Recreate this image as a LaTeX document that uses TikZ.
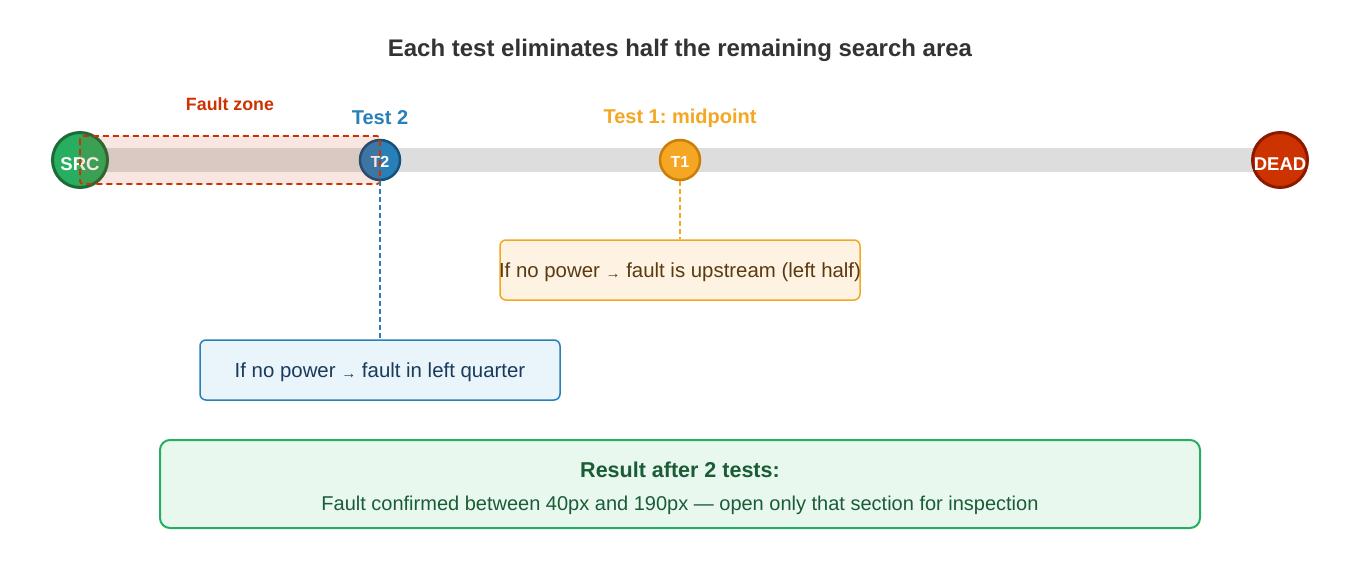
\documentclass[tikz,border=0pt]{standalone}
\usepackage{fontspec}
\setmainfont{Liberation Sans}
\frenchspacing
\usetikzlibrary{backgrounds,calc}
\definecolor{srcfill}{HTML}{27AE60}
\definecolor{srcline}{HTML}{1E6B3A}
\definecolor{bluef}{HTML}{2980B9}
\definecolor{bluel}{HTML}{1A4F7A}
\definecolor{orangef}{HTML}{F5A623}
\definecolor{orangel}{HTML}{C87F0A}
\definecolor{redf}{HTML}{CC3300}
\definecolor{redl}{HTML}{8B1A00}
\definecolor{trackc}{HTML}{DDDDDD}
\definecolor{titlec}{HTML}{333333}
\definecolor{obox}{HTML}{FEF3E2}
\definecolor{otext}{HTML}{5A3A10}
\definecolor{bbox}{HTML}{EAF4FB}
\definecolor{btext}{HTML}{1A3A5A}
\definecolor{gbox}{HTML}{E8F8EE}
\definecolor{gtext}{HTML}{1A5C35}
\tikzset{
  px/.style={x=1pt,y=-1pt},
  bignode/.style={circle,minimum size=55pt,inner sep=0pt,line width=3pt},
  smallnode/.style={circle,minimum size=40pt,inner sep=0pt,line width=2.5pt},
  bigtext/.style={text=white,font=\fontsize{18.5}{20}\selectfont\bfseries,inner sep=0pt,yshift=-4pt},
  smalltext/.style={text=white,font=\fontsize{16}{18}\selectfont\bfseries,inner sep=0pt,yshift=-2pt},
  infobox/.style={rectangle,rounded corners=6pt,line width=1.5pt,minimum width=360pt,minimum height=60pt,inner sep=0pt},
  boxtext/.style={font=\fontsize{20.4}{24}\selectfont,inner sep=0pt,yshift=-2pt},
  vlink/.style={line width=1.5pt,dash pattern=on 5pt off 3pt},
  lbl/.style={font=\fontsize{20}{24}\selectfont\bfseries,inner sep=0pt},
}
\begin{document}
\begin{tikzpicture}[px]
\useasboundingbox (0,0) rectangle (1360,560);
\begin{scope}[on background layer]
  \fill[white] (0,0) rectangle (1360,560);
\end{scope}
\node[font=\fontsize{24}{28}\selectfont\bfseries,text=titlec] (title) at (680,50) {Each test eliminates half the remaining search area};

\node[bignode,fill=srcfill,draw=srcline,label={[bigtext]center:SRC}] (src) at (80,160) {};
\node[smallnode,fill=bluef,draw=bluel,label={[smalltext]center:T2}] (t2) at (380,160) {};
\node[smallnode,fill=orangef,draw=orangel,label={[smalltext]center:T1}] (t1) at (680,160) {};
\node[bignode,fill=redf,draw=redl,label={[bigtext]center:DEAD}] (dead) at (1280,160) {};

\begin{scope}[on background layer]
  \draw[trackc,line width=24pt] (src.center) -- (dead.center);
\end{scope}

\fill[redf,fill opacity=0.12,rounded corners=3pt] (80,136) rectangle (380,184);
\draw[redf,line width=1.8pt,dash pattern=on 6pt off 4pt,rounded corners=3pt] (80,136) rectangle (380,184);

\node[font=\fontsize{17.8}{20}\selectfont\bfseries,text=redf,inner sep=0pt] (fz) at (230,104) {Fault zone};
\node[lbl,text=bluef] (t2l) at (380,118) {Test 2};
\node[lbl,text=orangef] (t1l) at (680,118) {Test 1: midpoint};

\node[infobox,fill=obox,draw=orangef,label={[boxtext,text=otext]center:If no power {\fontsize{15}{16}\selectfont\raisebox{-1pt}{→}} fault is upstream (left half)}] (ob) at (680,270) {};
\node[infobox,fill=bbox,draw=bluef,label={[boxtext,text=btext]center:If no power {\fontsize{15}{16}\selectfont\raisebox{-1pt}{→}} fault in left quarter}] (bb) at (380,370) {};

\draw[vlink,orangef] (t1.south) -- (ob.north);
\draw[vlink,bluef] (t2.south) -- (bb.north);

\node[rectangle,rounded corners=10pt,line width=2pt,draw=srcfill,fill=gbox,minimum width=1040pt,minimum height=88pt,inner sep=0pt] (res) at (680,484) {};
\node[font=\fontsize{21.5}{24}\selectfont\bfseries,text=gtext,inner sep=0pt] (rt) at (680,470) {Result after 2 tests:};
\node[font=\fontsize{20}{24}\selectfont,text=gtext,inner sep=0pt] (rb) at (680,505) {Fault confirmed between 40px and 190px — open only that section for inspection};
\end{tikzpicture}
\end{document}
